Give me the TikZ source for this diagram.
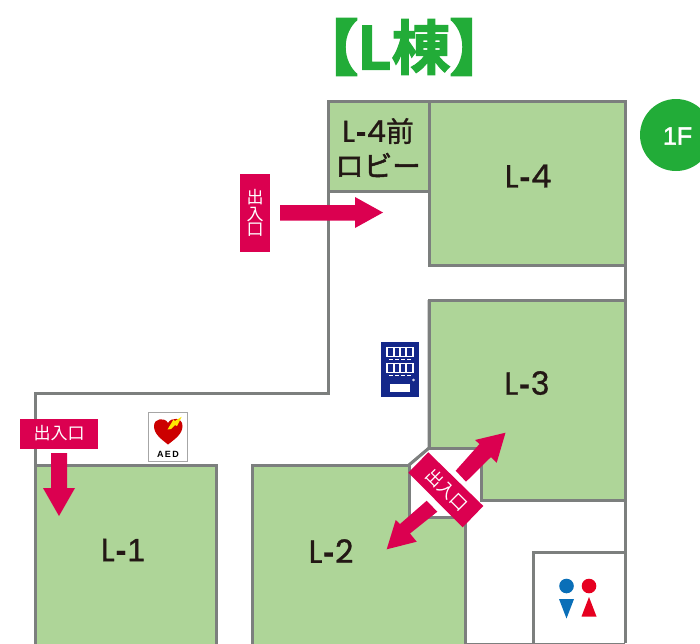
\documentclass[tikz,border=0pt]{standalone}
\usepackage{fontspec}
\setmainfont{Poppins}
\newfontfamily\cjk{Noto Sans CJK JP}
\newfontfamily\cjkb{Noto Sans CJK JP Bold}
\newfontfamily\arialb{Liberation Sans Bold}
\newfontfamily\arial{Liberation Sans}
\newcommand{\strk}[2]{\special{pdf:literal direct 2 Tr #1 w}#2\special{pdf:literal direct 0 Tr}}
\newcommand{\hy}{\kern1pt{\arialb -}\kern1pt}
\definecolor{roomg}{HTML}{AED598}
\definecolor{wallg}{HTML}{7C7F7E}
\definecolor{entr}{HTML}{DB0050}
\definecolor{titleg}{HTML}{22AC38}
\definecolor{navy}{HTML}{14288A}
\definecolor{mblue}{HTML}{0A6FB8}
\definecolor{wred}{HTML}{E60020}
\definecolor{ink}{HTML}{231815}
\tikzset{
 x=1pt,y=-1pt,
 room/.style={fill=roomg,draw=wallg,line width=3pt,line join=miter},
 wall/.style={draw=wallg,line width=3pt},
 lab/.style={text=ink,font=\fontsize{32}{32}\selectfont,inner sep=0pt},
 ent/.style={fill=entr,draw=none},
 enttext/.style={text=white,font=\cjk\fontsize{17}{18}\selectfont,inner sep=0pt},
}
\begin{document}
\begin{tikzpicture}
\path[use as bounding box] (0,0) rectangle (700,643);
\begin{scope}
\clip (0,0) rectangle (700,643);
% outer walls
\draw[wall] (328,191) -- (328,393) -- (35,393) -- (35,465);
\draw[wall] (625,101) -- (625,643);
\draw[wall] (429,300) -- (429,448) -- (409,465) -- (409,517);
% rooms
\draw[room] (328,101) rectangle (429,191);
\draw[room] (429,101) rectangle (625,265);
\draw[room] (429,300) -- (625,300) -- (625,500) -- (481,500) -- (481,448) -- (429,448) -- cycle;
\draw[room] (35,645) -- (35,465) -- (216,465) -- (216,645) -- cycle;
\draw[room] (252,645) -- (252,465) -- (409,465) -- (409,517) -- (465,517) -- (465,645) -- cycle;
\draw[wall] (533,645) -- (533,552) -- (625,552);
\draw[wall] (465,644) -- (625,644);
% chamfer
\draw[wall,line width=2.5pt] (429,448) -- (409,465);
% room labels
\node[lab] (l4) at (528,176) {\strk{0.3}{L\hy 4}};
\node[lab] (l3) at (527,383) {\strk{0.3}{L\hy 3}};
\node[lab] (l2) at (331,551) {\strk{0.3}{L\hy 2}};
\node[lab] (l1) at (123,550) {\strk{0.3}{L\hy{\arial 1}}};
\node[lab,font=\fontsize{30}{30}\selectfont] (l4a) at (378,131) {\strk{0.3}{L\hy 4{\cjk\fontsize{28}{28}\selectfont 前}}};
\node[lab,font=\cjk\fontsize{28.5}{28.5}\selectfont] (l4b) at (378,165) {\strk{0.5}{ロビー}};
% title
\node[text=titleg,font=\cjkb\fontsize{59}{59}\selectfont,inner sep=0pt] (title) at (404,47) {\strk{3.2}{【}\strk{1.2}{L棟}\strk{3.2}{】}};
% 1F
\fill[titleg] (676,135) circle (36);
\node[text=white,font=\arial\fontsize{25}{25}\selectfont,inner sep=0pt] (oneF) at (677.5,136) {\strk{0.4}{1F}};
% entrance top
\fill[ent] (240,174) rectangle (270,252);
\node[enttext,align=center] (e1) at (255,213) {\shortstack[c]{出\\[-1pt]入\\[-1pt]口}};
\fill[ent] (280,205) -- (355,205) -- (355,197) -- (383,212.5) -- (355,228) -- (355,220.5) -- (280,220.5) -- cycle;
% entrance left
\fill[ent] (20,419) rectangle (98,449);
\node[enttext] (e2) at (59,433) {出入口};
\fill[ent] (51,453) -- (67,453) -- (67,488) -- (75,488) -- (59,516) -- (43,488) -- (51,488) -- cycle;
% diagonal entrance
\fill[ent] (505.5,432.7) -- (475,440) -- (479.5,444) -- (455.7,470.7) -- (466,481.7) -- (491,457) -- (496.7,462.7) -- cycle;
\fill[ent] (386.7,549.3) -- (416.7,541.7) -- (410,533.5) -- (437.3,511.7) -- (426.7,500.7) -- (400,524) -- (395.7,520) -- cycle;
\fill[ent] (428.3,452.3) -- (483.3,506) -- (462.7,527.3) -- (408.3,472.7) -- cycle;
\node[enttext,rotate=-45] (e3) at (447,490) {出入口};
% vending machine
\fill[navy] (381,342) rectangle (419,397);
\foreach \yy in {347,363}{
 \fill[white] (386,\yy) rectangle (414,\yy+10);
 \fill[navy] (388.3,\yy+1.3) rectangle (393.3,\yy+9);
 \fill[navy] (395,\yy+1.3) rectangle (399.3,\yy+9);
 \fill[navy] (400.7,\yy+1.3) rectangle (405,\yy+9);
 \fill[navy] (406.7,\yy+1.3) rectangle (411.7,\yy+9);
 \draw[white,line width=0.7pt,dash pattern=on 4pt off 2pt] (389,\yy+12.5) -- (412,\yy+12.5);
}
\fill[white] (390,384) rectangle (410,392);
\draw[white,line width=0.5pt] (413.5,380) circle (1);
% AED
\draw[draw=gray!70,fill=white,line width=0.7pt] (148,412.5) rectangle (187.5,461);
\fill[red!80!black] (168,444.5) .. controls (161,439) and (154,434) .. (154,426) .. controls (154,418) and (165,417) .. (168,423) .. controls (171,417) and (182.5,417) .. (182.5,426) .. controls (182.5,434) and (175,439) .. (168,444.5) -- cycle;
\fill[yellow!90!orange] (181.7,416.7) -- (175,421) -- (173.5,419.5) -- (167.5,429.5) -- (171,429) -- (175,425) -- (177,426) -- cycle;
\node[text=black,font=\arialb\fontsize{9}{9}\selectfont,inner sep=0pt] (aed) at (168,454.7) {A\hspace{1.5pt}E\hspace{1.5pt}D};
% restroom
\fill[mblue] (566.5,586) circle (7.3);
\fill[mblue] (559,599) -- (574,599) -- (566.5,618.5) -- cycle;
\fill[wred] (589,586) circle (7.3);
\fill[wred] (589,597) -- (596.5,616.5) -- (581.5,616.5) -- cycle;
\end{scope}
\end{tikzpicture}
\end{document}
